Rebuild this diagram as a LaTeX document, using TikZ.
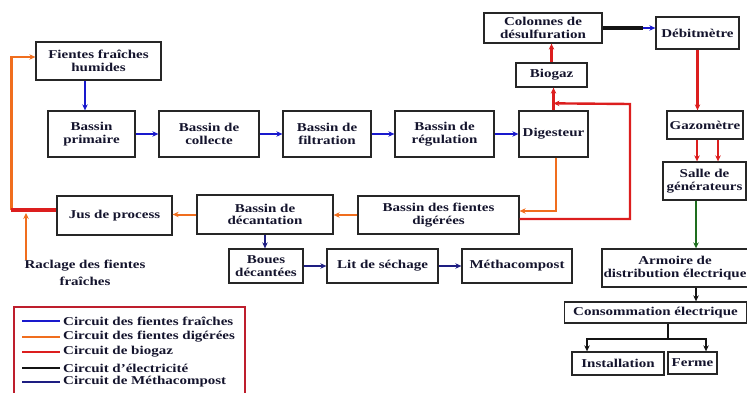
\documentclass[tikz,border=0pt]{standalone}
\usepackage{fontspec}
\setmainfont{Liberation Serif}[FakeStretch=1.25]
\usetikzlibrary{calc,arrows.meta}

\definecolor{cfr}{RGB}{25,25,205}
\definecolor{cdig}{RGB}{240,110,30}
\definecolor{cbio}{RGB}{220,30,30}
\definecolor{celec}{RGB}{20,20,20}
\definecolor{cgen}{RGB}{30,110,30}
\definecolor{cmeth}{RGB}{30,30,130}
\definecolor{cleg}{RGB}{190,30,45}
\definecolor{ctxt}{RGB}{20,20,45}

\tikzset{
  bx/.style={draw=black!85,line width=1.3pt,rectangle,align=center,inner sep=1pt,
    font=\fontsize{12}{12.5}\selectfont\bfseries,text=ctxt},
  lg/.style={inner sep=0pt,font=\fontsize{12}{12.5}\selectfont\bfseries,text=ctxt},
  tip/.style={-{Stealth[length=6pt,width=5.5pt]}},
  fr/.style={cfr,line width=2pt,tip},
  dg/.style={cdig,line width=2pt,tip},
  bg/.style={cbio,line width=2.4pt,tip},
  el/.style={celec,line width=2pt,tip},
  gen/.style={cgen,line width=2pt,tip},
  mc/.style={cmeth,line width=2pt,tip}
}

\begin{document}
\begin{tikzpicture}[x=1pt,y=-1pt]
\useasboundingbox (0,0) rectangle (747,393);
% boxes
\node[bx,minimum width=125pt,minimum height=38pt] (FFH) at (98.5,61) {Fientes fraîches\\humides};
\node[bx,minimum width=87pt,minimum height=46pt] (BP) at (91.5,134) {Bassin\\primaire};
\node[bx,minimum width=100pt,minimum height=46pt] (BC) at (209,134) {Bassin de\\collecte};
\node[bx,minimum width=88pt,minimum height=46pt] (BF) at (327,134) {Bassin de\\filtration};
\node[bx,minimum width=99pt,minimum height=46pt] (BR) at (444.5,134) {Bassin de\\régulation};
\node[bx,minimum width=69pt,minimum height=46pt] (DIG) at (553.5,134) {Digesteur};
\node[bx,minimum width=71pt,minimum height=24pt] (BIO) at (551.5,75) {Biogaz};
\node[bx,minimum width=118pt,minimum height=30pt] (COL) at (543,28) {Colonnes de\\désulfuration};
\node[bx,minimum width=83pt,minimum height=32pt] (DEB) at (697.5,33) {Débitmètre};
\node[bx,minimum width=76pt,minimum height=28pt] (GAZ) at (705,125) {Gazomètre};
\node[bx,minimum width=83pt,minimum height=38pt] (SAL) at (704.5,181) {Salle de\\générateurs};
\node[bx,minimum width=161pt,minimum height=38pt] (BFD) at (438.5,215) {Bassin des fientes\\digérées};
\node[bx,minimum width=136pt,minimum height=39pt] (BDE) at (265,214.5) {Bassin de\\décantation};
\node[bx,minimum width=115pt,minimum height=39pt] (JUS) at (114.5,215.5) {Jus de process};
\node[bx,minimum width=74pt,minimum height=34pt] (BOU) at (266,266) {Boues\\décantées};
\node[bx,minimum width=111pt,minimum height=34pt] (LIT) at (382.5,266) {Lit de séchage};
\node[bx,minimum width=110pt,minimum height=34pt] (MET) at (517,266) {Méthacompost};
\node[bx,minimum width=146pt,minimum height=38pt] (ARM) at (675,268) {Armoire de\\distribution électrique};
\node[bx,minimum width=182pt,minimum height=21pt] (CON) at (655.5,312.5) {Consommation électrique};
\node[bx,minimum width=92pt,minimum height=23pt] (INS) at (618,363.5) {Installation};
\node[bx,minimum width=49pt,minimum height=22pt] (FER) at (692.5,363) {Ferme};
\node[lg,align=center,font=\fontsize{12}{17}\selectfont\bfseries] (RAC) at (85,273) {Raclage des fientes\\fraîches};

% circuit des fientes fraiches
\coordinate (c1) at ([xshift=-6.5pt]BP.north);
\draw[fr] (FFH.south -| c1) -- (c1);
\foreach \a/\b in {BP/BC,BC/BF,BF/BR,BR/DIG}
  \draw[fr] (\a.east) -- (\b.west);

% circuit du biogaz
\draw[bg] (DIG.north) -- (DIG.north |- BIO.south);
\draw[bg] (BIO.north) -- (BIO.north |- COL.south);
\path (COL.east -| DEB.west) coordinate (k2);
\coordinate (k1) at ([xshift=-12pt]k2);
\draw[celec,line width=3.5pt] (COL.east) -- (k1);
\draw[fr] (k1) -- (k2);
\draw[bg] (DEB.south) -- (DEB.south |- GAZ.north);
\coordinate (g1) at ([xshift=-8pt]GAZ.south);
\coordinate (g2) at ([xshift=13pt]GAZ.south);
\draw[bg] (g1) -- (g1 |- SAL.north);
\draw[bg] (g2) -- (g2 |- SAL.north);
\coordinate (b1) at ([yshift=-4pt]BFD.east);
\coordinate (b2) at ([yshift=7pt]DIG.north);
\coordinate (b3) at (630,104);
\draw[bg] (b1) -| (b3) -- (b2);

% circuit d'electricite
\coordinate (s1) at ([xshift=-8.5pt]SAL.south);
\draw[gen] (s1) -- (s1 |- ARM.north);
\draw[el] (s1 |- ARM.south) -- (s1 |- CON.north);
\coordinate (n1) at ([xshift=12.5pt]CON.south);
\coordinate (n2) at ([yshift=-15pt]n1);
\coordinate (i1) at ([xshift=-31pt]INS.north);
\coordinate (f1) at ([xshift=13.5pt]FER.north);
\draw[celec,line width=2pt] (n1) -- (n2);
\draw[el] (n2) -| (i1);
\draw[el] (n2) -| (f1);

% circuit des fientes digerees
\coordinate (d1) at ([xshift=2.5pt]DIG.south);
\coordinate (d2) at ([yshift=4pt]BFD.east);
\draw[dg] (d1) |- (d2);
\draw[dg] (BFD.west) -- (BFD.west -| BDE.east);
\draw[dg] (BDE.west) -- (BDE.west -| JUS.east);
\coordinate (k0) at ([yshift=5.5pt,xshift=-45pt]JUS.west);
\coordinate (c2) at ([yshift=4pt]FFH.west);
\draw[dg,line width=2.4pt] (k0) |- (c2);
\draw[cbio,line width=3.5pt] ([yshift=5.5pt]JUS.west) -- (k0);
\coordinate (k3) at ([yshift=-3pt]k0);
\coordinate (r1) at ([xshift=-59pt]RAC.north);
\draw[dg] (r1) -- (r1 |- k3);

% circuit de methacompost
\draw[mc] (BDE.south) -- (BDE.south |- BOU.north);
\draw[mc] (BOU.east) -- (LIT.west);
\draw[mc] (LIT.east) -- (MET.west);

% legende
\draw[cleg,line width=1.8pt] (14,307) rectangle (245,397);
\foreach \c/\y/\t [count=\i] in {cfr/321/Circuit des fientes fraîches,
    cdig/337/Circuit des fientes digérées,cbio/352/Circuit de biogaz,
    celec/368/Circuit d’électricité,cmeth/382/Circuit de Méthacompost} {
  \draw[\c,line width=1.8pt] (22,\y) -- (60,\y);
  \node[lg,anchor=west] (leg\i) at (63,\y) {\t};
}
\end{tikzpicture}
\end{document}
